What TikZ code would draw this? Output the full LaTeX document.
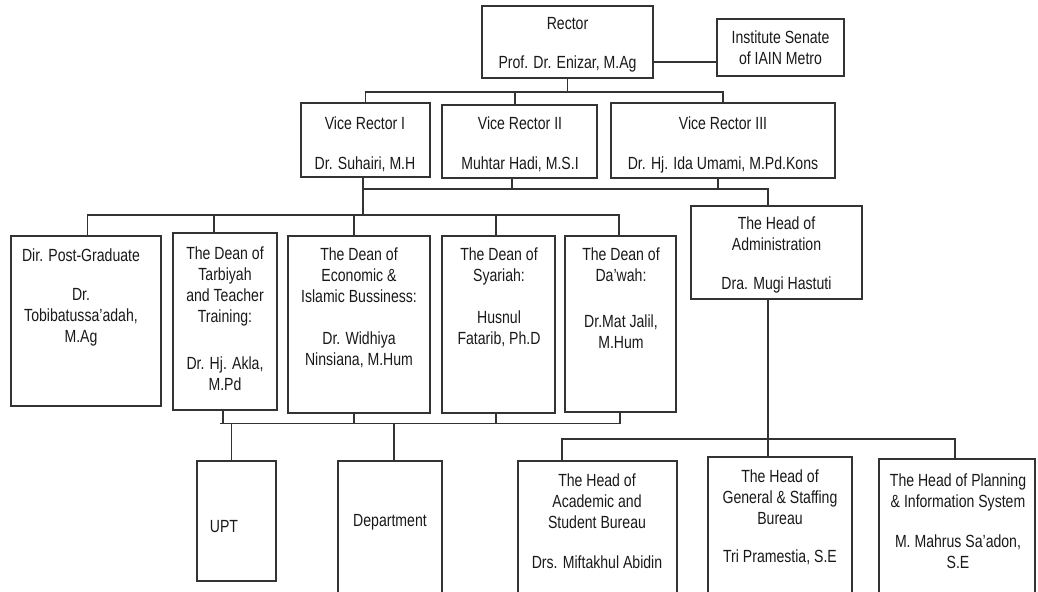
\documentclass[tikz,border=0pt]{standalone}
\usepackage{fontspec}
\setmainfont[FakeStretch=0.8]{Liberation Sans}
\begin{document}
\begin{tikzpicture}[x=0.75pt,y=-0.75pt,
  font=\fontsize{13.2pt}{15.75pt}\selectfont,
  box/.style={draw=black!80, line width=1.3pt, inner sep=0pt},
  txt/.style={align=center, inner sep=0pt, anchor=north, text=black!90},
  con/.style={draw=black!80, line width=1pt}]
\newcommand\bx[5]{\node[box, minimum width={(#4-#2)*0.75pt}, minimum height={(#5-#3)*0.75pt}] (#1) at ({(#2+#4)/2},{(#3+#5)/2}) {};}
\useasboundingbox (0,0) rectangle (1038,592);
% boxes
\bx{rector}{482}{6}{653}{78}
\bx{senate}{717}{19}{844}{76}
\bx{vr1}{301}{103}{430}{177}
\bx{vr2}{442}{105}{597}{178}
\bx{vr3}{611}{103}{835}{178}
\bx{pg}{10.7}{236}{160.7}{406}
\bx{tar}{173}{233}{277}{410}
\bx{eco}{288}{236}{430}{413}
\bx{sya}{442}{236}{555}{413}
\bx{daw}{565}{236}{676}{412}
\bx{adm}{691}{206}{862}{299}
\bx{upt}{197}{461}{276}{581}
\bx{dep}{338}{461}{442}{598}
\bx{aca}{518}{461}{677}{598}
\bx{gen}{708}{457}{852}{598}
\bx{pla}{879}{459}{1035}{598}
% texts
\node[txt] (rector-t) at (567.5,17.5) {Rector\\[13.5pt]Prof. Dr. Enizar, M.Ag};
\node[txt] (senate-t) at (780.5,30.5) {Institute Senate\\of IAIN Metro};
\node[txt] (vr1-t) at (365,116.5) {Vice Rector I\\[14.25pt]Dr. Suhairi, M.H};
\node[txt] (vr2-t) at (520,116.5) {Vice Rector II\\[14.25pt]Muhtar Hadi, M.S.I};
\node[txt] (vr3-t) at (723,116.5) {Vice Rector III\\[14.25pt]Dr. Hj. Ida Umami, M.Pd.Kons};
\node[txt] (pg-t) at (81,248.5) {Dir. Post-Graduate\\[13.5pt]Dr.\\Tobibatussa’adah,\\M.Ag};
\node[txt] (tar-t) at (225,246.8) {The Dean of\\Tarbiyah\\and Teacher\\Training:\\[19pt]Dr. Hj. Akla,\\M.Pd};
\node[txt] (eco-t) at (359,247.5) {The Dean of\\Economic \&\\Islamic Bussiness:\\[15.75pt]Dr. Widhiya\\Ninsiana, M.Hum};
\node[txt] (sya-t) at (499,247.5) {The Dean of\\Syariah:\\[15.75pt]Husnul\\Fatarib, Ph.D};
\node[txt] (daw-t) at (621,247.5) {The Dean of\\Da’wah:\\[18.75pt]Dr.Mat Jalil,\\M.Hum};
\node[txt] (adm-t) at (776.5,216.5) {The Head of\\Administration\\[13.5pt]Dra. Mugi Hastuti};
\node[txt] (upt-t) at (224,520.5) {UPT};
\node[txt] (dep-t) at (390,514.5) {Department};
\node[txt] (aca-t) at (597,473.5) {The Head of\\Academic and\\Student Bureau\\[14.25pt]Drs. Miftakhul Abidin};
\node[txt] (gen-t) at (780,469.5) {The Head of\\General \& Staffing\\Bureau\\[12.75pt]Tri Pramestia, S.E};
\node[txt] (pla-t) at (958,473.5) {The Head of Planning\\\& Information System\\[14.25pt]M. Mahrus Sa’adon,\\S.E};
% helper coordinates
\coordinate (yb1) at (0,92);
\coordinate (rs) at (0,62);
\coordinate (yb2) at (0,189);
\coordinate (yb3) at (0,215);
\coordinate (yb4) at (0,423.5);
\coordinate (yb5) at (0,439);
\coordinate (x515) at (515,0);
\coordinate (x363) at (363,0);
\coordinate (x512) at (512,0);
\coordinate (x718) at (718,0);
\coordinate (x768) at (768,0);
\coordinate (x87) at (87.5,0);
\coordinate (x214) at (214,0);
\coordinate (x354) at (354,0);
\coordinate (x496) at (496,0);
\coordinate (x619) at (619,0);
\coordinate (x220) at (220,0);
\coordinate (x223) at (223,0);
\coordinate (x231) at (231.7,0);
\coordinate (x394) at (394,0);
\coordinate (x620) at (620,0);
\coordinate (x562) at (562,0);
\coordinate (x955) at (955,0);
% connectors
\draw[con] (rector.east |- rs) -- (senate.west |- rs);
\draw[con] (rector.south) -- (rector.south |- yb1);
\draw[con] (vr1.north) -- (vr1.north |- yb1) -- (vr3.north |- yb1) -- (vr3.north);
\draw[con] (x515 |- yb1) -- (vr2.north -| x515);
\draw[con] (vr1.south -| x363) -- (x363 |- yb3);
\draw[con] (x363 |- yb2) -- (x768 |- yb2) -- (adm.north -| x768);
\draw[con] (vr2.south -| x512) -- (x512 |- yb2);
\draw[con] (vr3.south -| x718) -- (x718 |- yb2);
\draw[con] (pg.north -| x87) -- (x87 |- yb3) -- (x619 |- yb3) -- (daw.north -| x619);
\draw[con] (x214 |- yb3) -- (tar.north -| x214);
\draw[con] (x354 |- yb3) -- (eco.north -| x354);
\draw[con] (x496 |- yb3) -- (sya.north -| x496);
\draw[con] (x220 |- yb4) -- (x620 |- yb4) -- (daw.south -| x620);
\draw[con] (tar.south -| x223) -- (x223 |- yb4);
\draw[con] (eco.south -| x354) -- (x354 |- yb4);
\draw[con] (sya.south -| x496) -- (x496 |- yb4);
\draw[con] (x231 |- yb4) -- (upt.north -| x231);
\draw[con] (x394 |- yb4) -- (dep.north -| x394);
\draw[con] (adm.south -| x768) -- (gen.north -| x768);
\draw[con] (aca.north -| x562) -- (x562 |- yb5) -- (x955 |- yb5) -- (pla.north -| x955);
\end{tikzpicture}
\end{document}
